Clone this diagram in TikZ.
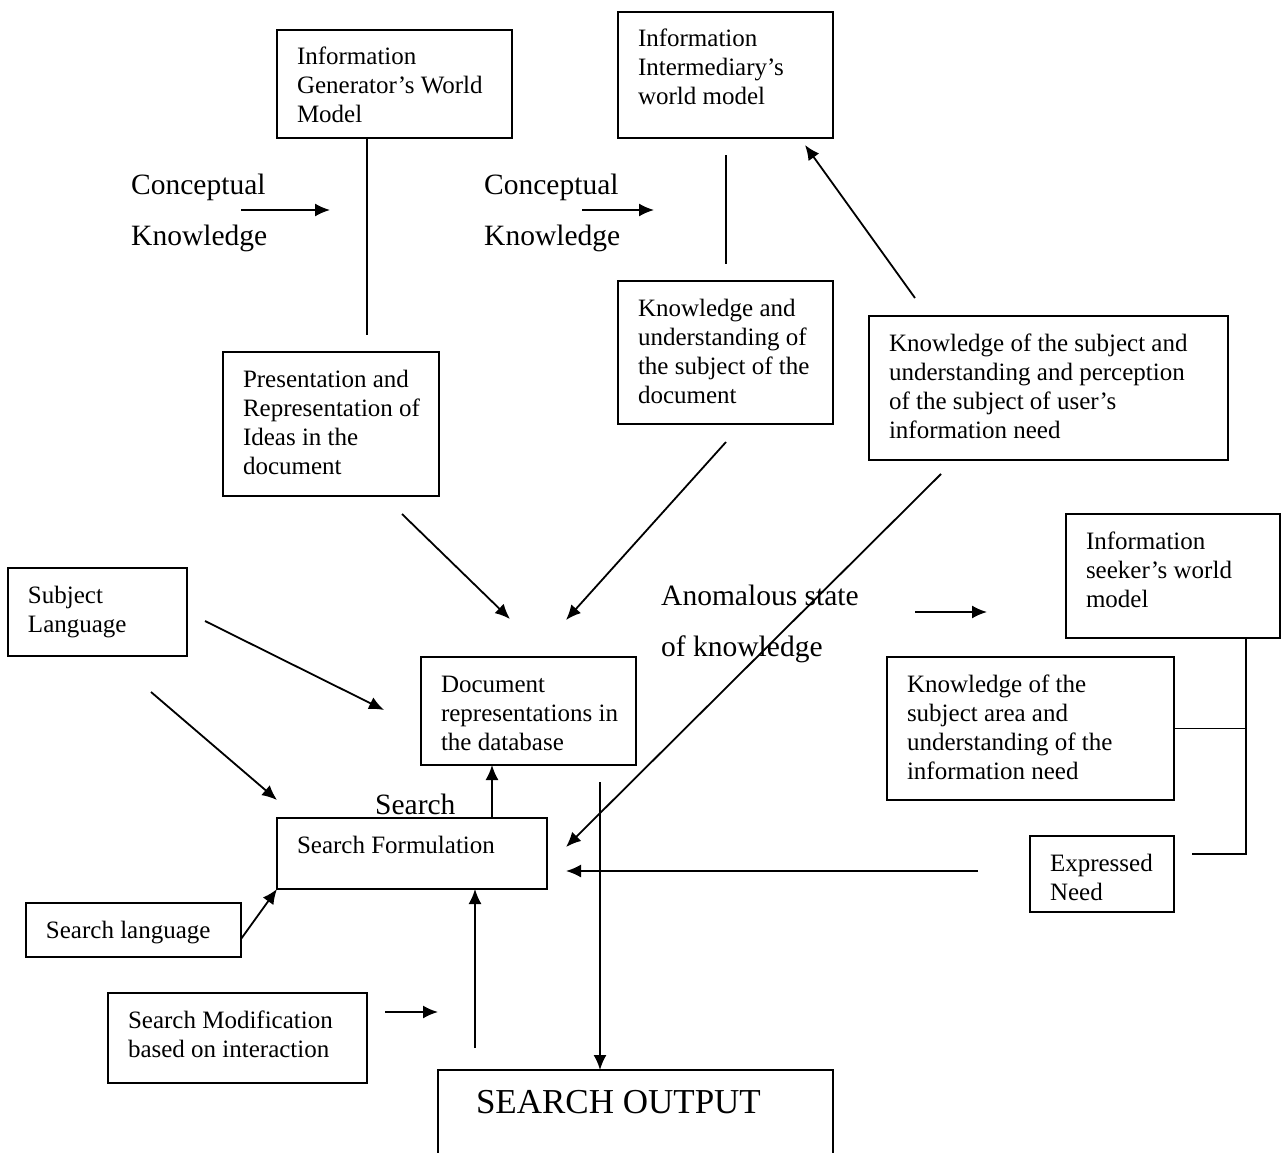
\documentclass[tikz,border=0pt]{standalone}
\usepackage{fontspec}
\setmainfont{Liberation Serif}
\usetikzlibrary{arrows.meta}

% box text: [strut height]{width}{height}{lines}
\newcommand{\boxtxt}[4][35pt]{\parbox[c][#3][t]{#2}{\raggedright\leftskip=20pt\rule{0pt}{#1}#4}}

\tikzset{
  blk/.style={draw, line width=1.8pt, anchor=north west, inner sep=0pt, outer sep=0pt,
    font=\fontsize{25}{29}\selectfont},
  big/.style={anchor=west, inner sep=0pt, align=left, font=\fontsize{29.5}{51}\selectfont},
  ln/.style={line width=1.8pt},
  arr/.style={line width=1.8pt, -{Latex[length=15pt,width=13pt]}}
}

\begin{document}
\begin{tikzpicture}[x=1pt, y=-1pt]

\clip (0,0) rectangle (1282,1153);

% boxes
\node[blk] (genwm) at (277,30) {\boxtxt{235pt}{108pt}{Information\\Generator’s World\\Model}};
\node[blk] (intwm) at (618,12) {\boxtxt{215pt}{126pt}{Information\\Intermediary’s\\world model}};
\node[blk] (presrep) at (223,352) {\boxtxt{216pt}{144pt}{Presentation and\\Representation of\\Ideas in the\\document}};
\node[blk] (knowdoc) at (618,281) {\boxtxt{215pt}{143pt}{Knowledge and\\understanding of\\the subject of the\\document}};
\node[blk] (knowneed) at (869,316) {\boxtxt{359pt}{144pt}{Knowledge of the subject and\\understanding and perception\\of the subject of user’s\\information need}};
\node[blk] (seekwm) at (1066,514) {\boxtxt{214pt}{124pt}{Information\\seeker’s world\\model}};
\node[blk] (knowarea) at (887,657) {\boxtxt{287pt}{143pt}{Knowledge of the\\subject area and\\understanding of the\\information need}};
\node[blk] (expneed) at (1030,836) {\boxtxt{144pt}{76pt}{Expressed\\Need}};
\node[blk] (subjlang) at (8,568) {\boxtxt{179pt}{88pt}{Subject\\Language}};
\node[blk] (docrep) at (421,657) {\boxtxt{215pt}{108pt}{Document\\representations in\\the database}};
\node[blk] (searchform) at (277,818) {\boxtxt{270pt}{71pt}{Search Formulation}};
\node[blk] (searchlang) at (26,903) {\boxtxt{215pt}{54pt}{Search language}};
\node[blk] (searchmod) at (108,993) {\boxtxt{259pt}{90pt}{Search Modification\\based on interaction}};
\node[blk] (output) at (438,1070) {\boxtxt[43.5pt]{395pt}{100pt}{\fontsize{35}{40}\selectfont\hspace*{18pt}SEARCH OUTPUT}};

% labels
\node[big] (ck1) at (131,213) {Conceptual\\Knowledge};
\node[big] (ck2) at (484,213) {Conceptual\\Knowledge};
\node[big] (ask) at (661,624) {Anomalous state\\of knowledge};
\node[big] (searchlbl) at (375,804) {Search};

% free ends
\coordinate (gtail) at (367,335);
\coordinate (ia) at (726,155);
\coordinate (ib) at (726,264);
\coordinate (ck1a) at (241,210);
\coordinate (ck1b) at (330,210);
\coordinate (ck2a) at (582,210);
\coordinate (ck2b) at (654,210);
\coordinate (kna) at (915,298);
\coordinate (knb) at (805,145);
\coordinate (pra) at (402,514);
\coordinate (prb) at (510,619);
\coordinate (kda) at (726,442);
\coordinate (kdb) at (566,620);
\coordinate (nda) at (941,474);
\coordinate (ndb) at (566,847);
\coordinate (aska) at (915,612);
\coordinate (askb) at (987,612);
\coordinate (br) at (1246,854);
\coordinate (brend) at (1192,854);
\coordinate (ena) at (978,871);
\coordinate (enb) at (566,871);
\coordinate (sla) at (205,621);
\coordinate (slb) at (384,710);
\coordinate (slc) at (151,692);
\coordinate (sld) at (277,800);
\coordinate (sfup) at (492,818);
\coordinate (outtop) at (600,782);
\coordinate (slt) at (241,939);
\coordinate (sma) at (385,1012);
\coordinate (smb) at (438,1012);
\coordinate (modup) at (475,1048);

% connectors
\draw[ln] (genwm.south -| gtail) -- (gtail);
\draw[ln] (ia) -- (ib);
\draw[arr] (ck1a) -- (ck1b);
\draw[arr] (ck2a) -- (ck2b);
\draw[arr] (kna) -- (knb);
\draw[arr] (pra) -- (prb);
\draw[arr] (kda) -- (kdb);
\draw[arr] (nda) -- (ndb);
\draw[arr] (aska) -- (askb);
\draw[ln] (br |- seekwm.south) -- (br) -- (brend);
\draw[ln] (knowarea.east) -- (knowarea.east -| br);
\draw[arr] (ena) -- (enb);
\draw[arr] (sla) -- (slb);
\draw[arr] (slc) -- (sld);
\draw[arr] (sfup) -- (sfup |- docrep.south);
\draw[arr] (outtop) -- (outtop |- output.north);
\draw[arr] (slt) -- (searchform.south west);
\draw[arr] (sma) -- (smb);
\draw[arr] (modup) -- (modup |- searchform.south);

\end{tikzpicture}
\end{document}
